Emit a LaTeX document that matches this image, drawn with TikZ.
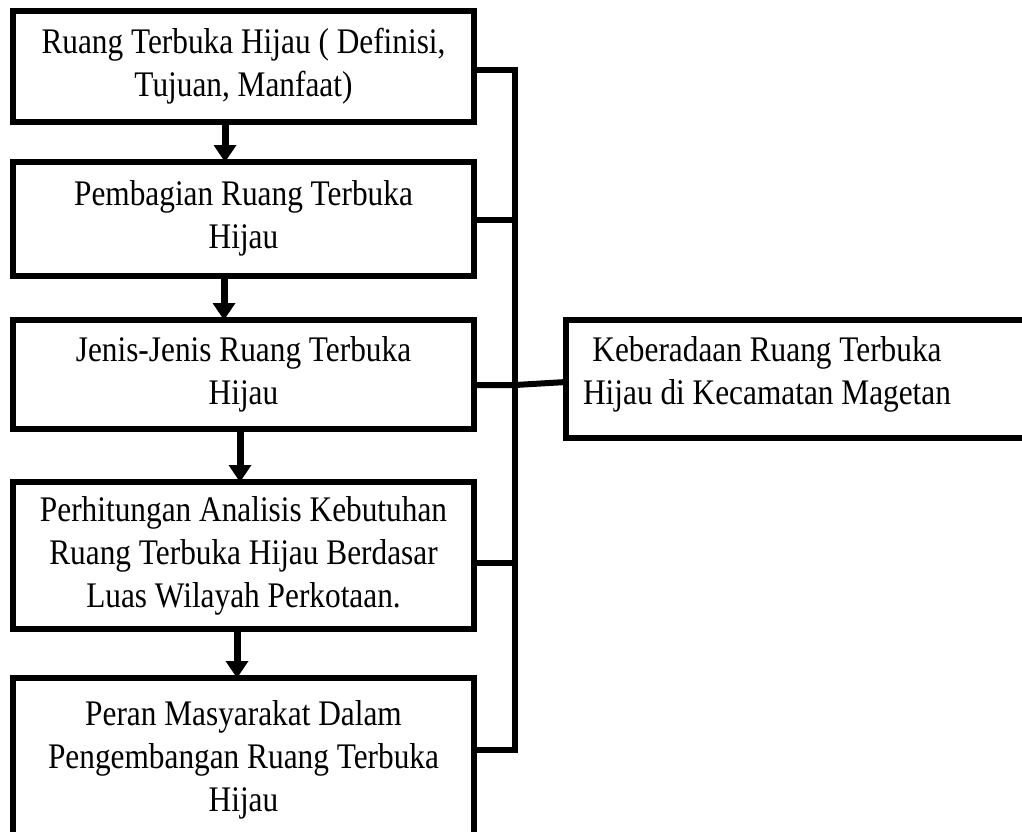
\documentclass[tikz,border=0pt]{standalone}
\usepackage{fontspec}
\setmainfont{Liberation Serif}[FakeStretch=0.87]
\usetikzlibrary{arrows.meta,calc}
\begin{document}
\begin{tikzpicture}[x=1pt,y=-1pt,
  box/.style={draw,line width=6pt,inner sep=0pt,outer sep=0pt,minimum width=461pt,align=center,font=\fontsize{36}{43}\selectfont},
  txt/.style={inner sep=0pt,align=center,font=\fontsize{36}{43}\selectfont},
  arr/.style={line width=7pt,-{Triangle[width=23pt,length=17pt,line width=0pt]}},
  link/.style={line width=6pt}]
\useasboundingbox (0,0) rectangle (1022,831);
\node[box,minimum height=111pt] (b1) at (243.5,66) {Ruang Terbuka Hijau ( Definisi,\\Tujuan, Manfaat)};
\node[box,minimum height=113.5pt] (b2) at (243.5,218.75) {Pembagian Ruang Terbuka\\Hijau};
\node[box,minimum height=109pt] (b3) at (243.5,374.5) {Jenis-Jenis Ruang Terbuka\\Hijau};
\node[box,minimum height=147pt] (b4) at (243.5,555.5) {Perhitungan Analisis Kebutuhan\\Ruang Terbuka Hijau Berdasar\\Luas Wilayah Perkotaan.};
\node[box,minimum height=164pt] (b5) at (243.5,760) {Peran Masyarakat Dalam\\Pengembangan Ruang Terbuka\\Hijau};
\node[draw,line width=6pt,inner sep=0pt,outer sep=0pt,minimum width=474pt,minimum height=118pt] (rb) at (803,379) {};
\node[txt] (rbt) at (767,374) {Keberadaan Ruang Terbuka\\Hijau di Kecamatan Magetan};
% arrows
\draw[arr] (b1.south -| 225,0) -- (b2.north -| 225,0);
\draw[arr] (b2.south -| 224,0) -- (b3.north -| 224,0);
\draw[arr] (b3.south -| 240,0) -- (b4.north -| 240,0);
\draw[arr] (b4.south -| 237,0) -- (b5.north -| 237,0);
% bus
\coordinate (j1) at (515,70);
\coordinate (j2) at (515,220);
\coordinate (j3) at (515,385);
\coordinate (j4) at (515,563);
\coordinate (j5) at (515,750);
\draw[link] (b1.east |- j1) -- (j1) -- (j5) -- (b5.east |- j5);
\draw[link] (b2.east |- j2) -- (j2);
\draw[link] (b4.east |- j4) -- (j4);
\draw[link] (b3.east |- j3) -- (j3) -- ($(rb.west)+(0,3)$);
\end{tikzpicture}
\end{document}
